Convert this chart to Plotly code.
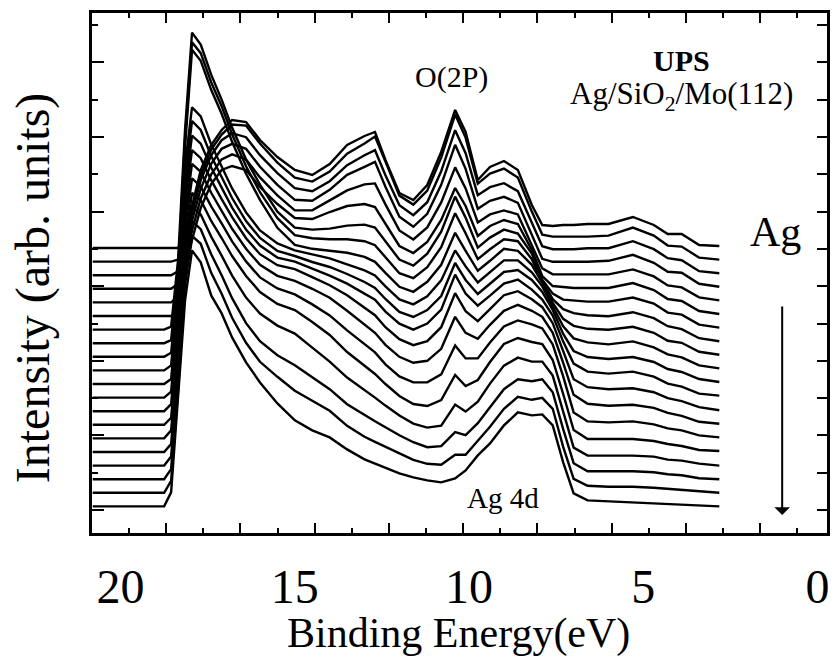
import plotly.graph_objects as go

# Binding energies (eV) at which each spectrum is sampled
energy = [20.8, 18.75, 18.55, 18.35, 18.15, 17.95, 17.7, 17.4, 17.1, 16.8, 16.4, 16.0,
          15.5, 15.0, 14.5, 14.0, 13.5, 13.0, 12.7, 12.4, 12.0, 11.6, 11.2, 10.8,
          10.4, 10.1, 9.75, 9.4, 9.0, 8.6, 8.2, 7.9, 7.6, 7.3, 7.0, 6.6, 6.0, 5.3,
          4.7, 4.3, 3.9, 3.4, 2.82]

# Vertical stacking offset of each spectrum (top = bare SiO2, bottom = most Ag)
offsets = [285.0, 271.4, 257.8, 244.2, 230.6, 217.0, 203.4, 189.8, 176.2, 162.6,
           149.0, 135.4, 121.8, 108.2, 94.6, 81.0, 67.4, 53.8, 40.2, 26.6]

# UPS intensity (arb. units) of each spectrum, one list per Ag dose
s00 = [0, 0, 0, 0, 13, 43, 78, 103, 118, 128, 126, 108, 91, 78, 73, 84, 103, 112, 116, 88, 55, 48, 63, 96, 138, 116, 68, 81, 87, 78, 43, 23, 22, 23, 23, 24, 24, 31, 23, 14, 14, 3, 2]
s01 = [0, 0, 0, 2, 20, 52, 86, 112, 127, 137, 136, 118, 99, 84, 80, 90, 108, 118, 125, 100, 66, 57, 71, 104, 147, 124, 78, 88, 93, 84, 50, 27, 25, 25, 25, 25, 26, 34, 26, 16, 15, 4, 2]
s02 = [0, 0, 0, 4, 28, 62, 95, 120, 135, 142, 138, 120, 102, 87, 84, 94, 110, 120, 125, 100, 70, 60, 73, 104, 145, 122, 80, 88, 92, 84, 53, 29, 26, 26, 26, 27, 27, 34, 26, 17, 15, 4, 2]
s03 = [0, 0, 0, 5, 32, 68, 100, 125, 140, 145, 140, 122, 104, 89, 88, 99, 114, 122, 127, 102, 72, 62, 75, 104, 144, 120, 80, 88, 92, 86, 54, 30, 27, 27, 27, 27, 28, 34, 26, 17, 16, 5, 2]
s04 = [0, 0, 0, 6, 36, 72, 104, 128, 143, 148, 143, 125, 107, 92, 92, 102, 112, 118, 119, 98, 72, 63, 75, 100, 135, 114, 80, 88, 92, 88, 58, 34, 28, 28, 28, 28, 28, 33, 26, 17, 15, 5, 2]
s05 = [0, 0, 0, 7, 40, 76, 108, 132, 146, 150, 146, 129, 112, 98, 97, 104, 110, 112, 109, 92, 70, 63, 74, 96, 128, 110, 80, 90, 96, 92, 66, 40, 30, 29, 28, 28, 28, 33, 26, 17, 15, 5, 2]
s06 = [0, 0, 3, 70, 200, 297, 285, 255, 230, 202, 170, 145, 118, 102, 100, 101, 104, 105, 102, 88, 70, 64, 76, 98, 133, 112, 82, 92, 100, 96, 76, 50, 36, 30, 29, 28, 28, 32, 26, 17, 15, 5, 2]
s07 = [0, 0, 3, 72, 205, 301, 290, 261, 237, 209, 177, 151, 125, 108, 105, 104, 104, 102, 98, 86, 70, 65, 76, 96, 130, 110, 84, 94, 104, 102, 84, 62, 44, 34, 30, 28, 27, 31, 25, 17, 14, 5, 2]
s08 = [0, 0, 4, 74, 210, 307, 296, 267, 243, 215, 183, 157, 129, 112, 108, 106, 104, 100, 95, 84, 70, 65, 75, 92, 124, 106, 86, 96, 108, 106, 92, 74, 54, 38, 31, 28, 27, 30, 24, 16, 14, 5, 2]
s09 = [0, 0, 5, 78, 205, 263, 254, 226, 204, 182, 158, 140, 127, 120, 116, 112, 106, 100, 95, 84, 71, 66, 74, 90, 120, 104, 88, 98, 110, 110, 98, 84, 64, 44, 32, 28, 26, 29, 23, 16, 13, 5, 2]
s10 = [0, 0, 5, 80, 206, 263, 254, 228, 207, 186, 163, 146, 133, 128, 122, 117, 110, 102, 96, 85, 72, 67, 74, 88, 121, 104, 90, 100, 112, 114, 104, 92, 74, 50, 33, 27, 25, 27, 22, 15, 12, 5, 2]
s11 = [0, 0, 6, 82, 207, 262, 254, 230, 210, 190, 168, 152, 140, 136, 129, 122, 114, 104, 98, 86, 74, 68, 74, 88, 123, 104, 92, 102, 114, 118, 108, 98, 82, 56, 34, 26, 24, 26, 21, 14, 11, 4, 2]
s12 = [0, 0, 7, 84, 208, 261, 253, 231, 212, 194, 173, 157, 146, 142, 134, 126, 116, 104, 96, 84, 72, 66, 70, 84, 118, 100, 90, 102, 116, 120, 112, 104, 88, 60, 32, 24, 22, 23, 19, 13, 10, 4, 1]
s13 = [0, 0, 7, 86, 209, 261, 253, 232, 214, 196, 176, 160, 149, 144, 136, 127, 114, 100, 92, 80, 68, 62, 64, 76, 108, 92, 86, 100, 114, 120, 114, 108, 92, 62, 30, 21, 19, 20, 17, 12, 9, 3, 1]
s14 = [0, 0, 8, 88, 210, 260, 252, 232, 215, 197, 177, 161, 150, 144, 134, 123, 108, 94, 86, 74, 62, 56, 56, 64, 93, 80, 80, 96, 112, 118, 114, 110, 94, 62, 26, 17, 16, 17, 14, 10, 8, 3, 1]
s15 = [0, 0, 8, 90, 210, 259, 252, 231, 214, 196, 176, 160, 148, 142, 130, 117, 100, 86, 78, 68, 56, 48, 46, 52, 77, 66, 72, 90, 108, 114, 110, 108, 92, 58, 22, 13, 13, 13, 11, 8, 6, 2, 1]
s16 = [0, 0, 9, 94, 210, 259, 251, 229, 210, 190, 168, 152, 140, 132, 118, 104, 88, 76, 68, 60, 50, 42, 38, 40, 61, 54, 64, 82, 100, 108, 104, 104, 90, 54, 18, 10, 10, 10, 9, 6, 5, 2, 0]
s17 = [0, 0, 10, 98, 210, 258, 250, 225, 204, 181, 156, 138, 124, 114, 102, 90, 75, 64, 58, 52, 44, 37, 32, 33, 47, 44, 56, 72, 90, 100, 98, 100, 87, 50, 16, 8, 8, 8, 7, 5, 4, 1, 0]
s18 = [0, 0, 12, 102, 208, 257, 249, 220, 199, 175, 150, 131, 116, 102, 92, 82, 67, 56, 51, 46, 39, 33, 29, 28, 38, 38, 52, 66, 84, 96, 93, 95, 84, 46, 14, 7, 6, 6, 5, 4, 3, 1, 0]
s19 = [0, 0, 14, 106, 206, 256, 244, 211, 193, 169, 144, 124, 103, 86, 76, 69, 57, 47, 43, 39, 33, 29, 26, 24, 28, 36, 51, 63, 81, 94, 91, 92, 81, 44, 13, 6, 5, 4, 3, 2, 2, 1, 0]

spectra = [s00, s01, s02, s03, s04, s05, s06, s07, s08, s09,
           s10, s11, s12, s13, s14, s15, s16, s17, s18, s19]

SERIF = "Liberation Serif"
W, H = 838, 656
ML, MR, MT, MB = 92, 8, 13, 123
PW, PH = W - ML - MR, H - MT - MB


def px(xp, yp):
    """Pixel position on the page -> paper coordinates."""
    return (xp - ML) / PW, (H - MB - yp) / PH


fig = go.Figure()

for off, spec in zip(offsets, spectra):
    fig.add_trace(go.Scatter(
        x=energy, y=[off + v for v in spec], mode="lines",
        line=dict(color="black", width=2.4), showlegend=False, hoverinfo="skip"))

# carriers for the tick-only overlay axes
fig.add_trace(go.Scatter(x=[None], y=[None], xaxis="x2", yaxis="y", showlegend=False, hoverinfo="skip"))
fig.add_trace(go.Scatter(x=[None], y=[None], xaxis="x", yaxis="y2", showlegend=False, hoverinfo="skip"))

fig.update_layout(
    width=W, height=H,
    margin=dict(l=ML, r=MR, t=MT, b=MB),
    paper_bgcolor="white", plot_bgcolor="white",
    font=dict(family=SERIF, color="black"),
    xaxis=dict(range=[20.82, -0.27], tickmode="array", tickvals=[20, 15, 10, 5, 0],
               ticks="", showgrid=False, zeroline=False,
               showline=True, linewidth=3, linecolor="black", mirror=True,
               tickfont=dict(family=SERIF, size=48, color="black"),
               ticklabelstandoff=9),
    xaxis2=dict(overlaying="x", anchor="y", side="bottom", range=[0, 19.8],
                tick0=0, dtick=2, ticks="inside", ticklen=10, tickwidth=2, tickcolor="black",
                minor=dict(tick0=0, dtick=1, ticks="inside", ticklen=5, tickwidth=2, tickcolor="black"),
                showticklabels=False, showline=False, mirror="ticks",
                showgrid=False, zeroline=False),
    yaxis=dict(range=[0, 520], tick0=23, dtick=74.6, ticks="inside", ticklen=12,
               tickwidth=2, tickcolor="black",
               minor=dict(tick0=23, dtick=37.3, ticks="inside", ticklen=6, tickwidth=2, tickcolor="black"),
               showticklabels=False, showgrid=False, zeroline=False,
               showline=True, linewidth=3, linecolor="black", mirror=True),
    yaxis2=dict(overlaying="y", anchor="x", side="right", range=[0, 520],
                tick0=23, dtick=37.3, ticks="inside", ticklen=10, tickwidth=2, tickcolor="black",
                showticklabels=False, showline=False, showgrid=False, zeroline=False),
)

ann = []


def label(text, xp, yp, size, **kw):
    x, y = px(xp, yp)
    ann.append(dict(text=text, x=x, y=y, xref="paper", yref="paper", showarrow=False,
                    xanchor="center", yanchor="middle",
                    font=dict(family=SERIF, size=size, color="black"), **kw))


label("Binding Energy(eV)", 460, 633, 42)
label("Intensity (arb. units)", 33, 288, 48, textangle=-90)
label("O(2P)", 453, 77, 30)
label("<b>UPS</b>", 684, 60, 30)
label("Ag/SiO<sub>2</sub>/Mo(112)", 684, 96, 31)
label("Ag", 778, 232, 42)
label("Ag 4d", 505, 498, 29)

tx, ty = px(785, 515)
ann.append(dict(text="", x=tx, y=ty, xref="paper", yref="paper", showarrow=True,
                ax=0, ay=-210, arrowhead=1, arrowsize=1.3, arrowwidth=2,
                arrowcolor="black", standoff=0))

fig.update_layout(annotations=ann)
fig.write_html("out.html")
